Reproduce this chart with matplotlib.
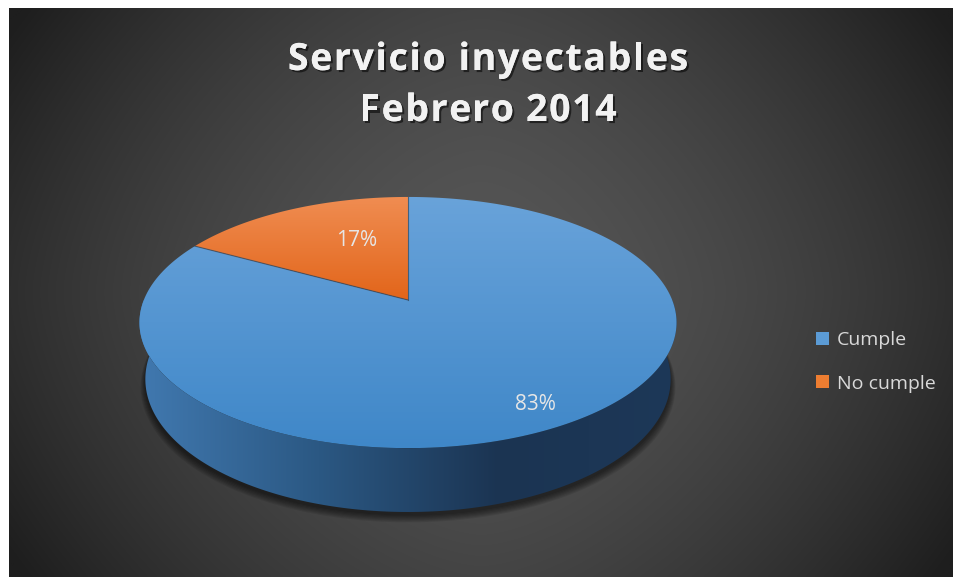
import numpy as np
import matplotlib
matplotlib.use("Agg")
import matplotlib.pyplot as plt
import matplotlib.patheffects as pe
from matplotlib.patches import Polygon, Patch
from matplotlib.colors import LinearSegmentedColormap
from matplotlib.font_manager import FontProperties

# data
labels = ['Cumple', 'No cumple']
values = [83, 17]
title_lines = ['Servicio inyectables', 'Febrero 2014']

# colours (top face gradient top/bottom, legend swatch)
top_cols = [('#69a3da', '#3f87c8'), ('#f08d52', '#e2651a')]
swatch_cols = ['#5b9bd5', '#ed7d31']
text_col = '#d9d9d9'

W, H = 954, 577
fig = plt.figure(figsize=(W / 100, H / 100), dpi=100)
fig.patch.set_facecolor('white')
ax = fig.add_axes([0, 0, 1, 1])
ax.set_xlim(0, W)
ax.set_ylim(H, 0)
ax.axis('off')

# background panel, darker towards the sides
px0, px1, py0, py1 = 9, W, 8, H
xx, yy = np.meshgrid(np.linspace(-1, 1, 400), np.linspace(-1, 1, 300))
bg = 86 - 40 * np.abs(xx) ** 1.6 - 18 * np.abs(yy) ** 1.6
bg = np.clip(bg, 30, 90) / 255.0
ax.imshow(np.dstack([bg, bg, bg]), extent=(px0, px1, py1, py0), origin='upper',
          aspect='auto', zorder=0, interpolation='bilinear')

# perspective projection of a unit disk
cx, cy = 408, 300
Sx, Sy, D = 1313, 1335, 4.97
sn, cs = 0.4525, 0.8917
h = 0.238


def proj(theta, z):
    x = np.cos(theta)
    y = np.sin(theta)
    depth = D + y * cs - z * sn
    return cx + Sx * x / depth, cy - Sy * (y * sn + z * cs) / depth


def grad_fill(poly_xy, extent, stops, horizontal, z):
    patch = Polygon(poly_xy, closed=True, fc='none', ec='none', zorder=z)
    ax.add_patch(patch)
    cmap = LinearSegmentedColormap.from_list('g', stops)
    g = np.linspace(0, 1, 256)
    arr = g[None, :] if horizontal else g[:, None]
    im = ax.imshow(arr, cmap=cmap, extent=extent, origin='upper', aspect='auto',
                   zorder=z, interpolation='bilinear')
    im.set_clip_path(patch)


# shadow under the pie
tt = np.linspace(0, 2 * np.pi, 400)
bx, by = proj(tt, -h)
for k in range(7):
    f = 1.0 + 0.003 * k
    sx = cx + (bx - cx) * f
    sy = cy + 2 + (by - cy) * f + 1.5 + k * 0.5
    ax.add_patch(Polygon(np.column_stack([sx, sy]), closed=True, fc='black',
                         ec='none', alpha=0.09, zorder=1))

# side wall (front half)
tf = np.linspace(np.pi, 2 * np.pi, 300)
tx, ty = proj(tf, 0)
bx2, by2 = proj(tf[::-1], -h)
side = np.column_stack([np.r_[tx, bx2], np.r_[ty, by2]])
grad_fill(side, (138, 680, 520, 290), ['#4179b0', '#2b5883', '#1b3452', '#1d3858'],
          True, 2)

# top face wedges, clockwise from 12 o'clock
start = np.pi / 2
total = float(sum(values))
ttop = np.linspace(0, 2 * np.pi, 400)
_, ety = proj(ttop, 0)
ytop, ybot = ety.min(), ety.max()
edges = []
for i, v in enumerate(values):
    sweep = 2 * np.pi * v / total
    th = np.linspace(start, start - sweep, max(int(300 * v / total), 20))
    ax_, ay_ = proj(th, 0)
    poly = np.column_stack([np.r_[cx, ax_], np.r_[cy, ay_]])
    yb = ybot if i == 0 else cy
    grad_fill(poly, (130, 690, yb, ytop), list(top_cols[i]), False, 3)
    edges.append(start)
    start -= sweep

# thin edge lines between slices
for e in edges:
    ex, ey = proj(e, 0)
    ax.plot([cx, ex], [cy, ey], color='#33475c', lw=0.8, alpha=0.7, zorder=4)

# percentage labels
pct_pos = [(535, 405), (357, 240)]
for v, (lx, ly) in zip(values, pct_pos):
    ax.text(lx, ly, f'{v}%', color='#e6e6e6', fontsize=15, family='Open Sans',
            ha='center', va='center', zorder=5)

# title with a bit of letter spacing
renderer = fig.canvas.get_renderer()
tprop = FontProperties(family='Open Sans', weight='bold', size=27)
spacing = 1.6
shadow = [pe.withSimplePatchShadow(offset=(1.5, -1.5), shadow_rgbFace='black', alpha=0.55),
          pe.Normal()]


def text_w(s):
    if not s:
        return 0.0
    w, _, _ = renderer.get_text_width_height_descent(s.replace(' ', '\u00a0'), tprop, ismath=False)
    return w


for line, base in zip(title_lines, [70, 121]):
    total_w = text_w(line) + spacing * (len(line) - 1)
    x0 = 488 - total_w / 2
    for k, ch in enumerate(line):
        if ch == ' ':
            continue
        xk = x0 + text_w(line[:k]) + spacing * k
        ax.text(xk, base, ch, color='#f2f2f2', fontproperties=tprop,
                ha='left', va='baseline', zorder=5, path_effects=shadow)

# legend
handles = [Patch(fc=c, ec='none', label=l) for c, l in zip(swatch_cols, labels)]
leg = fig.legend(handles=handles, loc='center left', bbox_to_anchor=(799 / W, 1 - 362 / H),
                 frameon=False, handlelength=0.65, handleheight=0.65, handletextpad=0.4,
                 labelspacing=1.3, prop={'family': 'Open Sans', 'size': 14})
for t in leg.get_texts():
    t.set_color(text_col)

fig.savefig('out.png', dpi=100, facecolor=fig.get_facecolor())
